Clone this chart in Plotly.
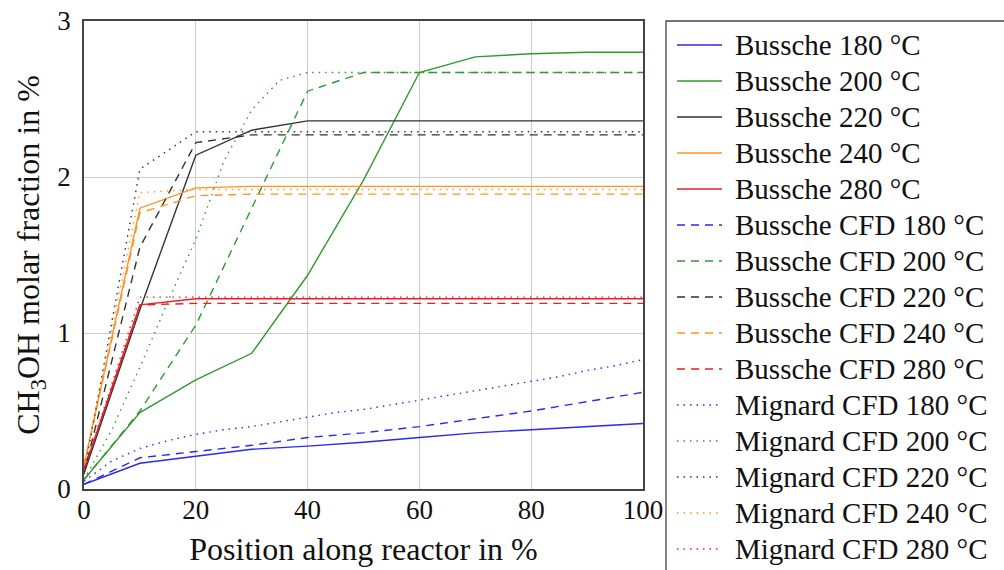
import plotly.graph_objects as go

# Position along the reactor (%)
x_bussche = [0, 10, 20, 30, 40, 50, 60, 70, 80, 90, 100]
x_mignard = [0, 5, 10, 15, 20, 25, 30, 35, 40, 45, 50, 55, 60, 65, 70, 75, 80, 85, 90, 95, 100]

# CH3OH molar fraction (%) - Bussche kinetic model
bussche_180 = [0.03, 0.165, 0.21, 0.255, 0.275, 0.30, 0.33, 0.36, 0.38, 0.40, 0.42]
bussche_200 = [0.06, 0.49, 0.70, 0.87, 1.37, 1.98, 2.67, 2.77, 2.79, 2.80, 2.80]
bussche_220 = [0.10, 1.15, 2.14, 2.30, 2.36, 2.36, 2.36, 2.36, 2.36, 2.36, 2.36]
bussche_240 = [0.15, 1.80, 1.93, 1.94, 1.94, 1.94, 1.94, 1.94, 1.94, 1.94, 1.94]
bussche_280 = [0.12, 1.18, 1.22, 1.22, 1.22, 1.22, 1.22, 1.22, 1.22, 1.22, 1.22]

# Bussche kinetics in CFD
cfd_180 = [0.03, 0.20, 0.24, 0.28, 0.33, 0.36, 0.40, 0.45, 0.50, 0.56, 0.62]
cfd_200 = [0.06, 0.50, 1.05, 1.80, 2.55, 2.67, 2.67, 2.67, 2.67, 2.67, 2.67]
cfd_220 = [0.10, 1.55, 2.22, 2.27, 2.27, 2.27, 2.27, 2.27, 2.27, 2.27, 2.27]
cfd_240 = [0.15, 1.77, 1.88, 1.89, 1.89, 1.89, 1.89, 1.89, 1.89, 1.89, 1.89]
cfd_280 = [0.12, 1.18, 1.19, 1.19, 1.19, 1.19, 1.19, 1.19, 1.19, 1.19, 1.19]

# Mignard kinetics in CFD
mig_180 = [0.05, 0.18, 0.26, 0.31, 0.35, 0.38, 0.40, 0.43, 0.46, 0.49, 0.51,
           0.54, 0.57, 0.60, 0.63, 0.66, 0.69, 0.72, 0.76, 0.79, 0.83]
mig_200 = [0.06, 0.38, 0.78, 1.20, 1.60, 2.10, 2.43, 2.62, 2.67, 2.67, 2.67,
           2.67, 2.67, 2.67, 2.67, 2.67, 2.67, 2.67, 2.67, 2.67, 2.67]
mig_220 = [0.10, 1.08, 2.05, 2.17, 2.29, 2.29, 2.29, 2.29, 2.29, 2.29, 2.29,
           2.29, 2.29, 2.29, 2.29, 2.29, 2.29, 2.29, 2.29, 2.29, 2.29]
mig_240 = [0.15, 1.02, 1.90, 1.91, 1.92, 1.92, 1.92, 1.92, 1.92, 1.92, 1.92,
           1.92, 1.92, 1.92, 1.92, 1.92, 1.92, 1.92, 1.92, 1.92, 1.92]
mig_280 = [0.12, 0.67, 1.23, 1.23, 1.23, 1.23, 1.23, 1.23, 1.23, 1.23, 1.23,
           1.23, 1.23, 1.23, 1.23, 1.23, 1.23, 1.23, 1.23, 1.23, 1.23]

temperatures = ["180", "200", "220", "240", "280"]
colors = ["#2a2aee", "#2f9a2f", "#333333", "#ff9326", "#ee1c24"]

SOLID, DASH, DOT = "solid", "8px,6px", "1.5px,5px"

series = []
for t, c, y in zip(temperatures, colors,
                   [bussche_180, bussche_200, bussche_220, bussche_240, bussche_280]):
    series.append((f"Bussche {t} °C", x_bussche, y, c, SOLID))
for t, c, y in zip(temperatures, colors,
                   [cfd_180, cfd_200, cfd_220, cfd_240, cfd_280]):
    series.append((f"Bussche CFD {t} °C", x_bussche, y, c, DASH))
for t, c, y in zip(temperatures, colors,
                   [mig_180, mig_200, mig_220, mig_240, mig_280]):
    series.append((f"Mignard CFD {t} °C", x_mignard, y, c, DOT))

FONT = "Liberation Serif"
W, H = 1004, 570
L, R, T, B = 84, 361, 21, 81
PW, PH = W - L - R, H - T - B


def px(xp):
    return (xp - L) / PW


def py(yp):
    return (H - B - yp) / PH


fig = go.Figure()
for name, xs, ys, c, dash in series:
    fig.add_trace(go.Scatter(
        x=xs, y=ys, mode="lines", name=name, showlegend=False,
        line=dict(color=c, width=1.4, dash=dash),
    ))

# Legend drawn as a framed box to the right of the axes
shapes = [dict(type="rect", xref="paper", yref="paper",
               x0=px(666), x1=px(1010), y0=py(21), y1=py(580),
               line=dict(color="#444444", width=1.3), fillcolor="white", layer="below")]
annotations = []
row0, step = 45, 36
for i, (name, xs, ys, c, dash) in enumerate(series):
    yy = py(row0 + i * step)
    shapes.append(dict(type="line", xref="paper", yref="paper",
                       x0=px(677), x1=px(722), y0=yy, y1=yy,
                       line=dict(color=c, width=1.3, dash=dash)))
    annotations.append(dict(xref="paper", yref="paper", x=px(733), y=yy,
                            text=name, showarrow=False, xanchor="left",
                            yanchor="middle", font=dict(size=29, color="#111111")))

fig.update_layout(
    width=W, height=H,
    margin=dict(l=L, r=R, t=T, b=B),
    paper_bgcolor="white", plot_bgcolor="white",
    font=dict(family=FONT, size=27, color="#111111"),
    shapes=shapes, annotations=annotations,
    xaxis=dict(range=[0, 100], tickvals=[0, 20, 40, 60, 80, 100],
               showgrid=True, gridcolor="#cccccc", gridwidth=1,
               showline=True, linecolor="#444444", linewidth=1.5, mirror=True,
               ticks="", zeroline=False, ticklabelstandoff=-4, automargin=False,
               title=dict(text="Position along reactor in %", standoff=13)),
    yaxis=dict(range=[0, 3], tickvals=[0, 1, 2, 3],
               showgrid=True, gridcolor="#cccccc", gridwidth=1,
               showline=True, linecolor="#444444", linewidth=1.5, mirror=True,
               ticks="", zeroline=False, ticklabelstandoff=6, automargin=False,
               title=dict(text="CH<sub>3</sub>OH molar fraction in %", standoff=8)),
)

fig.write_html("out.html")
